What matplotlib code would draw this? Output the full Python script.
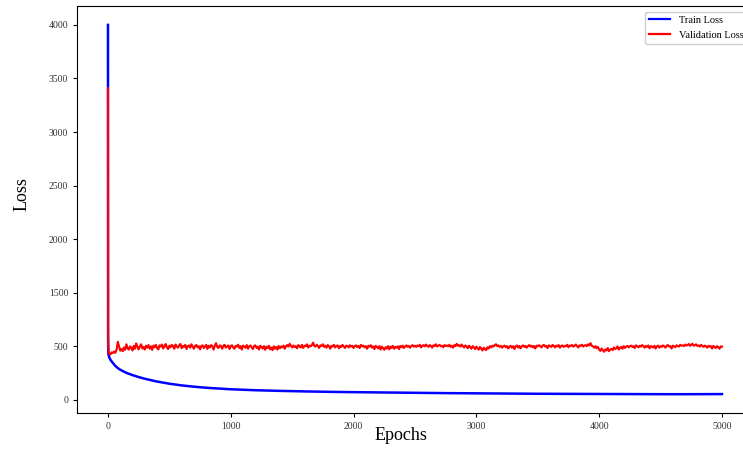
import numpy as np
import matplotlib
matplotlib.use("Agg")
import matplotlib.pyplot as plt

plt.rcParams['font.family'] = ['Liberation Serif', 'DejaVu Serif']

# ---- data ----
train_epochs = [0, 1, 2, 3, 5, 10, 20, 40, 60, 80, 100, 150, 200, 250, 300, 400, 500,
                600, 700, 800, 1000, 1200, 1400, 1600, 1800, 2000, 2250, 2500, 2750,
                3000, 3250, 3500, 3750, 4000, 4250, 4500, 4750, 5000]
train_loss = [4000, 700, 480, 440, 420, 400, 375, 345, 318, 298, 282, 253, 232, 214, 198,
              172, 152, 136, 124, 114, 100, 91, 85, 80, 76, 73, 70, 67, 64, 62, 60, 58,
              57, 56, 55, 54, 54, 55]

val_early_epochs = [0, 1, 2, 4, 7]
val_early_loss = [3410, 900, 520, 470, 445]

val_epochs = list(range(10, 5001, 10))
val_loss = [
    430, 425, 445, 438, 452, 440, 470, 585, 505, 460, 475, 455, 490, 468, 540, 482, 470, 500, 488, 462, 510, 478, 555, 495, 472,
    505, 540, 480, 495, 470, 512, 488, 525, 478, 502, 468, 515, 492, 530, 485, 472, 520, 498, 535, 480, 505, 545, 490, 475, 515,
    492, 528, 505, 478, 535, 500, 488, 522, 545, 482, 510, 495, 530, 475, 505, 518, 488, 540, 500, 478, 512, 525, 490, 505, 472,
    508, 520, 485, 498, 530, 476, 512, 490, 525, 502, 470, 515, 560, 495, 485, 520, 505, 478, 512, 530, 488, 500, 518, 475, 505,
    522, 490, 478, 510, 498, 532, 485, 505, 470, 515, 500, 488, 525, 478, 502, 518, 492, 475, 508, 520, 486, 498, 470, 512, 495,
    480, 505, 468, 498, 485, 512, 472, 490, 465, 502, 478, 495, 470, 508, 482, 500, 490, 515, 478, 505, 525, 498, 548, 510, 490,
    518, 495, 505, 482, 525, 500, 490, 530, 485, 512, 505, 538, 490, 515, 500, 522, 570, 510, 498, 532, 505, 485, 520, 508, 540,
    495, 515, 488, 525, 502, 478, 512, 498, 530, 490, 505, 520, 482, 510, 495, 528, 500, 485, 515, 505, 490, 522, 498, 512, 485,
    505, 520, 492, 510, 485, 528, 500, 515, 490, 505, 478, 512, 498, 522, 488, 502, 475, 510, 495, 482, 505, 470, 498, 485, 468,
    492, 480, 505, 472, 498, 485, 510, 478, 495, 488, 502, 475, 508, 492, 515, 485, 500, 520, 495, 510, 488, 505, 525, 498, 512,
    495, 518, 505, 530, 490, 512, 522, 500, 535, 508, 495, 525, 510, 488, 520, 505, 540, 498, 515, 528, 502, 512, 492, 525, 505,
    518, 500, 530, 495, 512, 488, 525, 505, 548, 510, 522, 498, 535, 505, 490, 518, 500, 482, 512, 495, 478, 505, 490, 475, 498,
    482, 470, 495, 478, 462, 488, 475, 465, 492, 480, 505, 490, 512, 498, 525, 540, 505, 518, 495, 510, 488, 502, 515, 492, 505,
    480, 498, 512, 488, 505, 475, 500, 518, 490, 508, 482, 502, 520, 495, 510, 488, 505, 525, 498, 512, 490, 508, 480, 515, 500,
    522, 505, 490, 515, 530, 498, 510, 485, 520, 505, 495, 528, 510, 490, 515, 500, 525, 488, 508, 518, 495, 512, 502, 530, 492,
    515, 505, 528, 498, 512, 535, 505, 490, 520, 510, 532, 498, 515, 525, 505, 540, 518, 560, 512, 500, 488, 505, 482, 495, 470,
    458, 480, 465, 450, 472, 462, 485, 455, 470, 478, 465, 490, 475, 482, 500, 470, 488, 495, 478, 505, 485, 498, 510, 490, 502,
    515, 495, 505, 485, 520, 500, 492, 512, 498, 525, 505, 488, 510, 495, 518, 482, 505, 498, 490, 512, 480, 500, 515, 488, 505,
    495, 518, 502, 488, 512, 525, 498, 505, 480, 515, 500, 492, 520, 508, 498, 530, 512, 520, 505, 535, 515, 528, 545, 510, 530,
    550, 512, 525, 538, 505, 520, 498, 528, 510, 495, 515, 502, 488, 512, 498, 505, 480, 510, 495, 485, 505, 492, 478, 500, 498,
]

y_ticks = [0, 500, 1500, 2000, 2500, 3000, 3500, 4000]
x_ticks = [0, 1000, 2000, 3000, 4000, 5000]


# y axis of the picture: equal spacing between 500 and 1500 as between other ticks
def fwd(v):
    v = np.asarray(v, dtype=float)
    return np.where(v <= 500, v, np.where(v <= 1500, 500 + (v - 500) * 0.5, v - 500))


def inv(p):
    p = np.asarray(p, dtype=float)
    return np.where(p <= 500, p, np.where(p <= 1000, 500 + (p - 500) * 2.0, p + 500))


fig = plt.figure(figsize=(7.43, 4.61), dpi=100)
ax = fig.add_axes([0.104, 0.104, 0.909, 0.882])

ax.plot(train_epochs, train_loss, color='blue', lw=1.8, label='Train Loss')
ax.plot(val_early_epochs + val_epochs, val_early_loss + val_loss, color='red', lw=1.5,
        label='Validation Loss')

ax.set_yscale('function', functions=(fwd, inv))
ax.set_yticks(y_ticks)
ax.set_yticklabels([str(t) for t in y_ticks])
ax.set_xticks(x_ticks)
ax.set_xlim(-250, 5250)
ax.set_ylim(-122, 4172)
ax.minorticks_off()

ax.tick_params(labelsize=7, length=3, width=0.8, labelcolor='#333333')
ax.set_xlabel('Epochs', fontsize=13)
ax.set_ylabel('Loss', fontsize=13)
ax.xaxis.set_label_coords(0.479, -0.035)
ax.yaxis.set_label_coords(-0.069, 0.538)

leg = ax.legend(loc='upper right', fontsize=7.5, framealpha=1, edgecolor='#cccccc')
for line in leg.get_lines():
    line.set_linewidth(1.6)

fig.savefig('out.png', dpi=100)
